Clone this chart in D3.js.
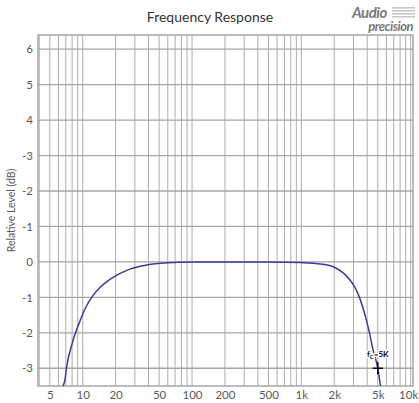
<!DOCTYPE html>
<html>
<head>
<meta charset="utf-8">
<script src="https://cdn.jsdelivr.net/npm/d3@7"></script>
<style>
  body { margin: 0; background: #fff; }
  text { font-family: Lato, "Open Sans", sans-serif; }
</style>
</head>
<body>
<svg id="chart"></svg>
<script>
// response (Hz, dB)
const freqs = [6.6, 6.9, 7.1, 8.1, 9.4, 10.8, 12.4, 14.3, 17.6, 21.8, 26.7, 32.8, 40.6, 50, 70, 100, 200, 500, 1000, 1500, 2000, 2500, 3000, 3400, 3900, 4200, 4500, 5000, 5300];
const levels = [-3.5, -3.3, -3.0, -2.25, -1.68, -1.25, -0.95, -0.73, -0.50, -0.33, -0.21, -0.13, -0.07, -0.04, -0.015, 0, 0, 0, -0.02, -0.06, -0.15, -0.35, -0.65, -1.0, -1.6, -2.0, -2.45, -3.0, -3.5];

const xTicks = [5, 10, 20, 50, 100, 200, 500, 1000, 2000, 5000, 10000];
const xTickLabels = ["5", "10", "20", "50", "100", "200", "500", "1k", "2k", "5k", "10k"];
const yTicks = [6, 5, 4, 3, 2, 1, 0, -1, -2, -3];
const yTickLabels = ["6", "5", "4", "-3", "-2", "-1", "0", "-1", "-2", "-3"];

const cutoff = [5000, -3];

const svgWidth = 419;
const svgHeight = 403;
const margin = { top: 35, right: 6, bottom: 17, left: 38 };

const svg = d3.select('#chart')
    .attr('width', svgWidth)
    .attr('height', svgHeight);

const xScale = d3.scaleLog()
    .domain([3.9, 10500])
    .range([margin.left, svgWidth - margin.right]);

const yScale = d3.scaleLinear()
    .domain([-3.5, 6.4])
    .range([svgHeight - margin.bottom, margin.top]);

// vertical log grid
const minor = [];
for (let dec = 1; dec <= 10000; dec *= 10) {
    for (let m = 1; m < 10; m++) {
        const f = m * dec;
        if (f > 3.9 && f < 10500) minor.push(f);
    }
}

svg.append('g')
    .selectAll('line')
    .data(minor)
    .join('line')
    .attr('x1', d => xScale(d)).attr('x2', d => xScale(d))
    .attr('y1', margin.top).attr('y2', svgHeight - margin.bottom)
    .attr('stroke', '#adadad')
    .attr('stroke-width', 1);

// horizontal grid
svg.append('g')
    .selectAll('line')
    .data(yTicks)
    .join('line')
    .attr('x1', margin.left).attr('x2', svgWidth - margin.right)
    .attr('y1', d => yScale(d)).attr('y2', d => yScale(d))
    .attr('stroke', '#a6a6a6')
    .attr('stroke-width', 1.3);

// frame
svg.append('rect')
    .attr('x', margin.left).attr('y', margin.top)
    .attr('width', svgWidth - margin.left - margin.right)
    .attr('height', svgHeight - margin.top - margin.bottom)
    .attr('fill', 'none')
    .attr('stroke', '#a6a6a6')
    .attr('stroke-width', 1.5);

// axes (labels only)
const xAxis = svg.append('g')
    .attr('transform', `translate(0, ${svgHeight - margin.bottom})`)
    .call(d3.axisBottom(xScale).tickValues(xTicks).tickSize(0).tickPadding(5)
        .tickFormat((d, i) => xTickLabels[i]));

const yAxis = svg.append('g')
    .attr('transform', `translate(${margin.left}, 0)`)
    .call(d3.axisLeft(yScale).tickValues(yTicks).tickSize(0).tickPadding(5)
        .tickFormat((d, i) => yTickLabels[i]));

[xAxis, yAxis].forEach(a => {
    a.select('.domain').remove();
    a.selectAll('text')
        .attr('fill', '#595959')
        .style('font-size', '11.5px')
        .style('font-family', 'Lato, "Open Sans", sans-serif');
});
// keep the last label inside the window
xAxis.selectAll('.tick:last-of-type text').attr('dx', -2.5);

// clip so the curve stops at the frame
svg.append('clipPath').attr('id', 'plot-clip')
    .append('rect')
    .attr('x', margin.left).attr('y', margin.top)
    .attr('width', svgWidth - margin.left - margin.right)
    .attr('height', svgHeight - margin.top - margin.bottom);

const line = d3.line()
    .x((d, i) => xScale(freqs[i]))
    .y((d, i) => yScale(levels[i]))
    .curve(d3.curveMonotoneX);

svg.append('path')
    .datum(freqs)
    .attr('clip-path', 'url(#plot-clip)')
    .attr('fill', 'none')
    .attr('stroke', '#3b3b9c')
    .attr('stroke-width', 1.5)
    .attr('d', line);

// cutoff marker
const cx = xScale(cutoff[0]), cy = yScale(cutoff[1]);
svg.append('path')
    .attr('d', `M${cx - 5},${cy}H${cx + 5}M${cx},${cy - 6}V${cy + 6}`)
    .attr('stroke', '#000')
    .attr('stroke-width', 1.5);

const lbl = svg.append('text')
    .attr('x', cx).attr('y', cy - 11)
    .attr('text-anchor', 'middle')
    .attr('font-size', 8)
    .attr('font-weight', 'bold')
    .attr('fill', '#000')
    .attr('stroke', '#fff').attr('stroke-width', 2.5).attr('paint-order', 'stroke');
lbl.append('tspan').text('f');
lbl.append('tspan').attr('font-size', 6).attr('dy', 2).text('C');
lbl.append('tspan').attr('dy', -2).text('=5K');

// title
svg.append('text')
    .attr('x', 210).attr('y', 22)
    .attr('text-anchor', 'middle')
    .attr('font-size', 14)
    .attr('fill', '#333')
    .text('Frequency Response');

// y axis title
svg.append('text')
    .attr('transform', `translate(15, ${(margin.top + svgHeight - margin.bottom) / 2}) rotate(-90)`)
    .attr('text-anchor', 'middle')
    .attr('font-size', 10.5)
    .attr('fill', '#595959')
    .text('Relative Level (dB)');

// logo
const logo = svg.append('g').attr('fill', '#7a7a7a').attr('font-style', 'italic').attr('font-weight', 'bold');
logo.append('text').attr('x', 352).attr('y', 18).attr('font-size', 15).attr('letter-spacing', -0.5).text('Audio');
logo.append('text').attr('x', 413).attr('y', 31).attr('text-anchor', 'end').attr('font-size', 13).attr('letter-spacing', -0.5).text('precision');
[0, 1, 2, 3].forEach(i => {
    logo.append('rect').attr('x', 392).attr('y', 7 + i * 3).attr('width', 23).attr('height', 1.6).attr('fill', '#c8c8c8');
});
</script>
</body>
</html>
